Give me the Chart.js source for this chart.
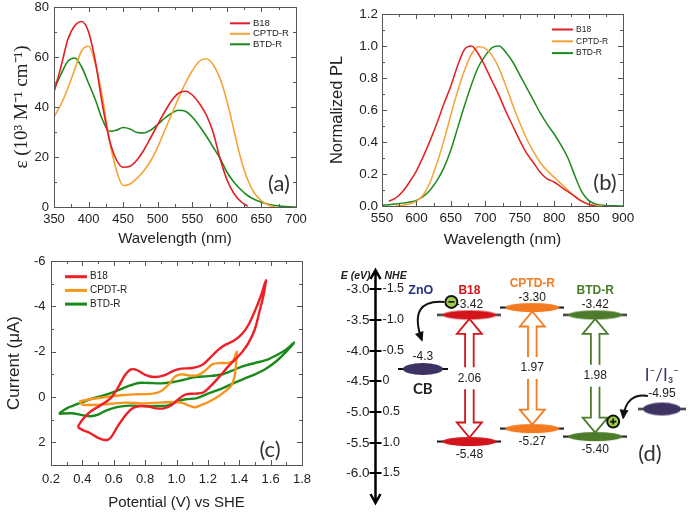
<!DOCTYPE html>
<html>
<head>
<meta charset="utf-8">
<script src="https://cdn.jsdelivr.net/npm/chart.js@4.4.1/dist/chart.umd.min.js"></script>
<style>
  html, body { margin: 0; padding: 0; background: #fff; }
  #figure { position: relative; width: 697px; height: 512px; overflow: hidden; background: #fff; }
  #figure canvas { position: absolute; }
</style>
</head>
<body>
<div id="figure">
  <canvas id="absChart" width="350" height="250" style="left:0;top:0"></canvas>
  <canvas id="plChart" width="377" height="250" style="left:320px;top:0"></canvas>
  <canvas id="cvChart" width="340" height="262" style="left:0;top:250px"></canvas>
  <canvas id="levelChart" width="372" height="262" style="left:325px;top:250px"></canvas>
</div>
<script>
const SANS = "'Liberation Sans', Arial, sans-serif";
const SERIF = "'Liberation Serif', 'Times New Roman', serif";
const ROUND = "Lato, 'Open Sans', sans-serif";
const INK = "#222";
const FRAME = "#555";

const RED = "#e41e25";
const ORANGE = "#f7a236";
const GREEN = "#1c8a1c";

// (a) absorption spectra
const absWavelength = [350, 360, 370, 380, 390, 400, 410, 420, 430, 440, 450, 460, 470, 480, 490, 500, 510, 520,
    530, 540, 550, 560, 570, 580, 590, 600, 610, 620, 630, 640, 650, 660, 670, 680, 690, 700];
const absB18 = [46, 56, 67, 72.5, 74.2, 70, 58, 41, 27, 19, 15.9, 16.3, 18.8, 22.8, 27.8, 33, 38, 42.5,
    45.5, 46.3, 44.8, 41.5, 37, 30, 19.5, 11, 5.5, 2.2, 0.3, null, null, null, null, null, null, null];
const absCPTD = [36, 41, 47.5, 55, 62.5, 64.3, 57, 44, 27, 15, 8.6, 9.2, 11.5, 14.5, 18.5, 24, 30.5, 37,
    43.5, 49.5, 54.5, 58.3, 59.3, 57, 51.5, 42.5, 31, 19.5, 11, 5.5, 2.5, 0.8, 0, null, null, null];
const absBTD = [47, 53, 58.3, 59.6, 56, 49.5, 42.8, 35, 30.3, 30.7, 31.8, 31.2, 29.8, 29.6, 30.8, 33, 35.5, 37.5,
    38.7, 38.3, 36, 32.5, 28.5, 24, 19.5, 14, 10, 7, 4.6, 3, 1.9, 1.1, 0.6, 0.3, 0.1, 0];

// (b) normalized photoluminescence
const plWavelength = [550, 560, 570, 580, 590, 600, 610, 620, 630, 640, 650, 660, 670, 680, 690, 700, 710, 720,
    730, 740, 750, 760, 770, 780, 790, 800, 810, 820, 830, 840, 850, 860, 870, 880, 890, 900];
const plB18 = [null, 0.03, 0.05, 0.09, 0.15, 0.22, 0.31, 0.41, 0.52, 0.64, 0.75, 0.88, 0.98, 1.0, 0.95, 0.87, 0.78, 0.69,
    0.59, 0.5, 0.41, 0.33, 0.27, 0.21, 0.17, 0.15, 0.12, 0.09, 0.06, 0.03, 0.01, 0, null, null, null, null];
const plCPTD = [null, null, 0, 0.005, 0.012, 0.03, 0.07, 0.15, 0.27, 0.41, 0.57, 0.72, 0.85, 0.95, 0.995, 0.985, 0.94, 0.86,
    0.75, 0.63, 0.52, 0.42, 0.34, 0.27, 0.22, 0.18, 0.14, 0.1, 0.06, 0.03, 0.01, 0.003, 0, null, null, null];
const plBTD = [0.005, 0.008, 0.012, 0.018, 0.025, 0.035, 0.06, 0.1, 0.16, 0.24, 0.35, 0.49, 0.63, 0.76, 0.87, 0.94, 0.99, 1.0,
    0.96, 0.9, 0.82, 0.74, 0.66, 0.58, 0.51, 0.45, 0.38, 0.3, 0.19, 0.09, 0.035, 0.012, 0.004, 0.002, 0.001, 0];

// (c) cyclic voltammograms (potential V vs SHE, current uA), traced round the loop
const cvB18Potential = [0.37, 0.40, 0.45, 0.52, 0.58, 0.63, 0.67, 0.71, 0.75, 0.80, 0.86, 0.92, 0.98, 1.03, 1.10, 1.16,
    1.21, 1.26, 1.31, 1.37, 1.42, 1.46, 1.50, 1.54, 1.57, 1.555, 1.53, 1.50, 1.46, 1.42, 1.38, 1.33, 1.28, 1.22, 1.17,
    1.12, 1.06, 1.02, 0.97, 0.92, 0.87, 0.82, 0.77, 0.72, 0.67, 0.62, 0.58, 0.55, 0.50, 0.45, 0.40, 0.37];
const cvB18Current = [1.33, 1.0, 0.65, 0.35, 0.05, -0.45, -0.95, -1.22, -1.18, -0.98, -0.88, -0.95, -1.15, -1.25, -1.28, -1.4,
    -1.7, -2.05, -2.3, -2.5, -2.8, -3.2, -3.8, -4.5, -5.15, -4.5, -3.8, -3.0, -2.4, -2.0, -1.7, -1.35, -0.95, -0.5, -0.2,
    -0.15, -0.12, 0.05, 0.35, 0.5, 0.5, 0.42, 0.4, 0.5, 0.85, 1.35, 1.8, 1.9, 1.8, 1.6, 1.45, 1.33];
const cvCPDTPotential = [0.38, 0.45, 0.55, 0.65, 0.75, 0.85, 0.90, 0.95, 0.99, 1.03, 1.08, 1.13, 1.18, 1.23, 1.28, 1.33,
    1.36, 1.385, 1.38, 1.37, 1.35, 1.31, 1.26, 1.21, 1.16, 1.12, 1.08, 1.03, 0.97, 0.88, 0.78, 0.68, 0.58, 0.48, 0.40, 0.38];
const cvCPDTCurrent = [0.2, 0.1, 0.0, -0.08, -0.12, -0.15, -0.25, -0.55, -0.9, -1.0, -0.95, -0.95, -1.15, -1.45, -1.5, -1.5,
    -1.6, -2.0, -1.5, -0.9, -0.5, -0.25, 0.0, 0.2, 0.35, 0.45, 0.38, 0.25, 0.22, 0.25, 0.28, 0.25, 0.3, 0.35, 0.33, 0.2];
const cvBTDPotential = [0.25, 0.30, 0.37, 0.45, 0.55, 0.63, 0.70, 0.76, 0.82, 0.90, 0.97, 1.04, 1.12, 1.20, 1.28, 1.35,
    1.42, 1.50, 1.58, 1.64, 1.70, 1.75, 1.70, 1.64, 1.57, 1.50, 1.43, 1.36, 1.28, 1.20, 1.13, 1.06, 1.00, 0.94, 0.87,
    0.80, 0.70, 0.62, 0.55, 0.50, 0.45, 0.40, 0.33, 0.25];
const cvBTDCurrent = [0.74, 0.5, 0.3, 0.1, -0.1, -0.3, -0.5, -0.62, -0.62, -0.6, -0.65, -0.75, -0.88, -0.92, -0.98, -1.15,
    -1.35, -1.5, -1.65, -1.85, -2.1, -2.4, -2.0, -1.6, -1.25, -1.0, -0.8, -0.6, -0.35, -0.15, 0.05, 0.1, 0.2, 0.38, 0.4,
    0.4, 0.38, 0.45, 0.6, 0.78, 0.85, 0.8, 0.72, 0.74];

// (d) energy levels (eV)
const dyeNames = ["B18", "CPTD-R", "BTD-R"];
const dyeLUMO = [-3.42, -3.30, -3.42];
const dyeHOMO = [-5.48, -5.27, -5.40];
const dyeGap = [2.06, 1.97, 1.98];
const znoCB = -4.3;
const redoxLevel = -4.95;
const energyTicks = [-3.0, -3.5, -4.0, -4.5, -5.0, -5.5, -6.0];
const nheTicks = [-1.5, -1.0, -0.5, 0, 0.5, 1.0, 1.5];

// horizontal slot of each column in the level diagram (axis sits at 0)
const slots = { axis: 0, zno: 0.76, dyes: [1.5, 2.5, 3.5], redox: 4.56 };
const dyeColors = ["#d4141b", "#f47a20", "#4d7b2c"];
const PURPLE = "#3d3262";

Chart.defaults.font.family = SANS;
Chart.defaults.color = INK;
Chart.defaults.animation = false;
Chart.defaults.events = [];

const series = (xs, ys) => xs.map((x, i) => ({ x, y: ys[i] })).filter((p) => p.y !== null);

const curve = (label, xs, ys, color, width) => ({
    label,
    data: series(xs, ys),
    borderColor: color,
    backgroundColor: color,
    borderWidth: width,
    pointRadius: 0,
    showLine: true,
    fill: false,
});

const axis = (o) => ({
    type: "linear",
    min: o.min,
    max: o.max,
    reverse: !!o.reverse,
    grid: { display: false, drawTicks: false },
    border: { display: false },
    ticks: {
        stepSize: o.step,
        padding: o.pad,
        includeBounds: false,
        color: INK,
        font: { size: o.size },
        callback: o.fmt,
    },
    title: {
        display: true,
        text: o.title,
        color: INK,
        font: { size: o.titleSize, family: o.titleFamily || SANS },
        padding: o.titlePad,
    },
    afterFit: (s) => {
        if (s.isHorizontal()) {
            s.height = o.fit;
            s.paddingLeft = 0;
            s.paddingRight = 0;
        } else {
            s.width = o.fit;
            s.paddingTop = 0;
            s.paddingBottom = 0;
        }
    },
});

// box frame with inward major/minor ticks on all four sides
const frameTicks = {
    id: "frameTicks",
    afterDatasetsDraw(chart, args, o) {
        const { ctx, chartArea: a } = chart;
        const xs = chart.scales.x;
        const ys = chart.scales.y;
        ctx.save();
        ctx.strokeStyle = FRAME;
        ctx.lineWidth = 1;
        ctx.strokeRect(Math.round(a.left) + 0.5, Math.round(a.top) + 0.5,
            Math.round(a.right - a.left), Math.round(a.bottom - a.top));
        ctx.beginPath();
        const nx = Math.round((xs.max - xs.min) / o.xMinor);
        for (let i = 0; i <= nx; i++) {
            const p = Math.round(xs.getPixelForValue(xs.min + i * o.xMinor)) + 0.5;
            const len = i % 2 === 0 ? o.major : o.minor;
            ctx.moveTo(p, a.bottom);
            ctx.lineTo(p, a.bottom - len);
            ctx.moveTo(p, a.top);
            ctx.lineTo(p, a.top + len);
        }
        const ny = Math.round((ys.max - ys.min) / o.yMinor);
        for (let i = 0; i <= ny; i++) {
            const p = Math.round(ys.getPixelForValue(ys.min + i * o.yMinor)) + 0.5;
            const len = i % 2 === 0 ? o.major : o.minor;
            ctx.moveTo(a.left, p);
            ctx.lineTo(a.left + len, p);
            ctx.moveTo(a.right, p);
            ctx.lineTo(a.right - len, p);
        }
        ctx.stroke();
        ctx.restore();
    },
};

// small legend inside the plot plus the panel letter
const keyAndTag = {
    id: "keyAndTag",
    afterDraw(chart, args, o) {
        const ctx = chart.ctx;
        ctx.save();
        ctx.font = `${o.size}px ${SANS}`;
        ctx.textBaseline = "middle";
        ctx.textAlign = "left";
        chart.data.datasets.forEach((ds, i) => {
            const y = o.y + i * o.dy;
            ctx.strokeStyle = ds.borderColor;
            ctx.lineWidth = o.lw;
            ctx.beginPath();
            ctx.moveTo(o.x, y);
            ctx.lineTo(o.x + o.len, y);
            ctx.stroke();
            ctx.fillStyle = INK;
            ctx.fillText(ds.label, o.x + o.len + 3, y);
        });
        ctx.font = `${o.tagSize}px ${ROUND}`;
        ctx.textAlign = "center";
        ctx.fillStyle = "#333";
        ctx.fillText(o.tag, o.tagX, o.tagY);
        ctx.restore();
    },
};

const baseOptions = (padding, scales, frame, key) => ({
    responsive: false,
    layout: { padding },
    scales,
    plugins: {
        legend: { display: false },
        tooltip: { enabled: false },
        frameTicks: frame,
        keyAndTag: key,
    },
});

const oneDecimal = (v) => Number(v).toFixed(1);
const plain = (v) => String(v);

// (a)
const absOptions = baseOptions(
    { top: 7, right: 54, bottom: 0, left: 0 },
    {
        x: axis({ min: 350, max: 700, step: 50, pad: 5, size: 13, title: "Wavelength (nm)", titleSize: 15,
            titlePad: { bottom: 2 }, fit: 43, fmt: plain }),
        y: axis({ min: 0, max: 80, step: 20, pad: 5, size: 13, title: "ε (10³ M⁻¹ cm⁻¹)", titleSize: 19,
            titleFamily: SERIF, titlePad: { top: 11 }, fit: 54, fmt: plain }),
    },
    { xMinor: 25, yMinor: 10, major: 5, minor: 3 },
    { x: 230, y: 23.3, dy: 10.5, len: 20, lw: 2, size: 9.5, tag: "(a)", tagX: 279, tagY: 184, tagSize: 22 }
);
absOptions.elements = { line: { cubicInterpolationMode: "monotone" } };
new Chart(document.getElementById("absChart"), {
    type: "scatter",
    data: {
        datasets: [
            curve("B18", absWavelength, absB18, RED, 1.6),
            curve("CPTD-R", absWavelength, absCPTD, ORANGE, 1.6),
            curve("BTD-R", absWavelength, absBTD, GREEN, 1.6),
        ],
    },
    options: absOptions,
    plugins: [frameTicks, keyAndTag],
});

// (b)
const plOptions = baseOptions(
    { top: 14, right: 74, bottom: 0, left: 0 },
    {
        x: axis({ min: 550, max: 900, step: 50, pad: 4, size: 13.5, title: "Wavelength (nm)", titleSize: 15.5,
            titlePad: { bottom: 1 }, fit: 44, fmt: plain }),
        y: axis({ min: 0, max: 1.2, step: 0.2, pad: 4, size: 13.5, title: "Normalized PL", titleSize: 16.5,
            titlePad: { top: 8 }, fit: 62, fmt: oneDecimal }),
    },
    { xMinor: 25, yMinor: 0.1, major: 5, minor: 3 },
    { x: 232, y: 29.5, dy: 11.8, len: 21, lw: 2, size: 8.5, tag: "(b)", tagX: 285, tagY: 183, tagSize: 22 }
);
plOptions.elements = { line: { cubicInterpolationMode: "monotone" } };
new Chart(document.getElementById("plChart"), {
    type: "scatter",
    data: {
        datasets: [
            curve("B18", plWavelength, plB18, RED, 1.5),
            curve("CPTD-R", plWavelength, plCPTD, ORANGE, 1.5),
            curve("BTD-R", plWavelength, plBTD, GREEN, 1.5),
        ],
    },
    options: plOptions,
    plugins: [frameTicks, keyAndTag],
});

// (c)
const cvOptions = baseOptions(
    { top: 11, right: 38, bottom: 0, left: 0 },
    {
        x: axis({ min: 0.2, max: 1.8, step: 0.2, pad: 7, size: 13, title: "Potential (V) vs SHE", titleSize: 15,
            titlePad: { bottom: 0 }, fit: 47, fmt: oneDecimal }),
        y: axis({ min: -6, max: 3, step: 2, pad: 5.5, size: 13, reverse: true, title: "Current (μA)", titleSize: 17,
            titlePad: { top: 4 }, fit: 51, fmt: plain }),
    },
    { xMinor: 0.1, yMinor: 1, major: 5, minor: 3 },
    { x: 65, y: 26.7, dy: 13.7, len: 22, lw: 3, size: 10, tag: "(c)", tagX: 270, tagY: 200, tagSize: 22 }
);
cvOptions.elements = { line: { tension: 0.3 } };
new Chart(document.getElementById("cvChart"), {
    type: "scatter",
    data: {
        datasets: [
            curve("B18", cvB18Potential, cvB18Current, "#ee1f26", 2.4),
            curve("CPDT-R", cvCPDTPotential, cvCPDTCurrent, "#f7951f", 2.4),
            curve("BTD-R", cvBTDPotential, cvBTDCurrent, "#1a8a1a", 2.4),
        ],
    },
    options: cvOptions,
    plugins: [frameTicks, keyAndTag],
});

// (d) energy level diagram
const levelMarker = (color, w, h) => {
    const tail = 5;
    const c = document.createElement("canvas");
    c.width = w + 2 * tail;
    c.height = h + 2;
    const g = c.getContext("2d");
    g.strokeStyle = "#111";
    g.lineWidth = 2;
    g.beginPath();
    g.moveTo(0, c.height / 2);
    g.lineTo(c.width, c.height / 2);
    g.stroke();
    g.fillStyle = color;
    g.beginPath();
    g.ellipse(c.width / 2, c.height / 2, w / 2, h / 2, 0, 0, Math.PI * 2);
    g.fill();
    return c;
};

const curvedArrow = (ctx, x0, y0, cx, cy, x1, y1) => {
    ctx.beginPath();
    ctx.moveTo(x0, y0);
    ctx.quadraticCurveTo(cx, cy, x1, y1);
    ctx.stroke();
    const ang = Math.atan2(y1 - cy, x1 - cx);
    const hl = 8, hw = 4.5;
    ctx.beginPath();
    ctx.moveTo(x1 + Math.cos(ang) * 2, y1 + Math.sin(ang) * 2);
    ctx.lineTo(x1 - Math.cos(ang) * hl - Math.sin(ang) * hw, y1 - Math.sin(ang) * hl + Math.cos(ang) * hw);
    ctx.lineTo(x1 - Math.cos(ang) * hl + Math.sin(ang) * hw, y1 - Math.sin(ang) * hl - Math.cos(ang) * hw);
    ctx.closePath();
    ctx.fill();
};

const chargeDot = (ctx, x, y, sign) => {
    ctx.beginPath();
    ctx.arc(x, y, 6, 0, Math.PI * 2);
    ctx.fillStyle = "#9ccc4c";
    ctx.fill();
    ctx.lineWidth = 2;
    ctx.strokeStyle = "#111";
    ctx.stroke();
    ctx.beginPath();
    ctx.lineWidth = 1.6;
    ctx.moveTo(x - 3, y);
    ctx.lineTo(x + 3, y);
    if (sign === "+") {
        ctx.moveTo(x, y - 3);
        ctx.lineTo(x, y + 3);
    }
    ctx.stroke();
};

const energyDiagram = {
    id: "energyDiagram",
    beforeDatasetsDraw(chart) {
        const { ctx, chartArea: a, scales: { x, y } } = chart;
        ctx.save();
        // hollow double-headed gap arrows
        dyeNames.forEach((name, i) => {
            const cx = x.getPixelForValue(slots.dyes[i]);
            const yt = y.getPixelForValue(dyeLUMO[i]) + 4;
            const yb = y.getPixelForValue(dyeHOMO[i]) - 4;
            const ym = (yt + yb) / 2;
            const hh = 15, hw = 12.5, sw = 4.3, gap = 11;
            ctx.strokeStyle = dyeColors[i];
            ctx.lineWidth = 1.8;
            ctx.beginPath();
            ctx.moveTo(cx + sw, ym - gap);
            ctx.lineTo(cx + sw, yt + hh);
            ctx.lineTo(cx + hw, yt + hh);
            ctx.lineTo(cx, yt);
            ctx.lineTo(cx - hw, yt + hh);
            ctx.lineTo(cx - sw, yt + hh);
            ctx.lineTo(cx - sw, ym - gap);
            ctx.moveTo(cx + sw, ym + gap);
            ctx.lineTo(cx + sw, yb - hh);
            ctx.lineTo(cx + hw, yb - hh);
            ctx.lineTo(cx, yb);
            ctx.lineTo(cx - hw, yb - hh);
            ctx.lineTo(cx - sw, yb - hh);
            ctx.lineTo(cx - sw, ym + gap);
            ctx.stroke();
            ctx.fillStyle = INK;
            ctx.font = `12px ${SANS}`;
            ctx.textAlign = "center";
            ctx.textBaseline = "middle";
            ctx.fillText(dyeGap[i].toFixed(2), cx, ym);
        });

        // energy axis with both scales
        const ax = Math.round(x.getPixelForValue(slots.axis)) + 0.5;
        ctx.strokeStyle = "#000";
        ctx.fillStyle = "#000";
        ctx.lineWidth = 2.5;
        ctx.beginPath();
        ctx.moveTo(ax, a.top);
        ctx.lineTo(ax, a.bottom);
        ctx.moveTo(ax - 5, a.top + 9);
        ctx.lineTo(ax, a.top);
        ctx.lineTo(ax + 5, a.top + 9);
        ctx.moveTo(ax - 5, a.bottom - 9);
        ctx.lineTo(ax, a.bottom);
        ctx.lineTo(ax + 5, a.bottom - 9);
        ctx.stroke();
        ctx.lineWidth = 2;
        ctx.textBaseline = "middle";
        energyTicks.forEach((v, i) => {
            const py = Math.round(y.getPixelForValue(v));
            ctx.beginPath();
            ctx.moveTo(ax - 6, py);
            ctx.lineTo(ax + 6, py);
            ctx.stroke();
            ctx.fillStyle = INK;
            ctx.font = `13.5px ${SANS}`;
            ctx.textAlign = "right";
            ctx.fillText(v.toFixed(1), ax - 6, py);
            ctx.font = `12.5px ${SANS}`;
            ctx.textAlign = "left";
            const n = nheTicks[i];
            ctx.fillText(n === 0 ? "0" : n.toFixed(1), ax + 7, py);
        });
        ctx.font = `italic bold 10.5px ${SANS}`;
        ctx.textAlign = "right";
        ctx.fillText("E (eV)", ax - 5, a.top + 6);
        ctx.textAlign = "left";
        ctx.fillText("NHE", ax + 9, a.top + 6);
        ctx.restore();
    },
    afterDatasetsDraw(chart, args, o) {
        const { ctx, scales: { x, y } } = chart;
        ctx.save();
        ctx.textAlign = "center";
        ctx.textBaseline = "middle";
        dyeNames.forEach((name, i) => {
            const cx = x.getPixelForValue(slots.dyes[i]);
            const yl = y.getPixelForValue(dyeLUMO[i]);
            const yh = y.getPixelForValue(dyeHOMO[i]);
            ctx.fillStyle = dyeColors[i];
            ctx.font = `bold 12px ${SANS}`;
            ctx.fillText(name, cx, yl - 24);
            ctx.fillStyle = INK;
            ctx.font = `12px ${SANS}`;
            ctx.fillText(dyeLUMO[i].toFixed(2), cx, yl - 10);
            ctx.fillText(dyeHOMO[i].toFixed(2), cx, yh + 13);
        });

        // ZnO conduction band
        const zx = x.getPixelForValue(slots.zno);
        const zy = y.getPixelForValue(znoCB);
        ctx.fillStyle = "#27307a";
        ctx.font = `bold 12.5px ${SANS}`;
        ctx.fillText("ZnO", zx - 2, y.getPixelForValue(energyTicks[0]) + 1);
        ctx.fillStyle = INK;
        ctx.font = `12px ${SANS}`;
        ctx.fillText(znoCB.toFixed(1), zx, zy - 12);
        ctx.font = `bold 15px ${ROUND}`;
        ctx.fillText("CB", zx, zy + 20);

        // redox couple
        const rx = x.getPixelForValue(slots.redox);
        const ry = y.getPixelForValue(redoxLevel);
        ctx.fillStyle = "#3a3468";
        ctx.font = `17px ${ROUND}`;
        ctx.fillText("I⁻/I₃⁻", rx, ry - 33);
        ctx.fillStyle = INK;
        ctx.font = `12px ${SANS}`;
        ctx.fillText(redoxLevel.toFixed(2), rx, ry - 15);

        // electron injection into ZnO
        const bx = x.getPixelForValue(slots.dyes[0]);
        const by = y.getPixelForValue(dyeLUMO[0]);
        const ex = bx - 18, ey = by - 13;
        ctx.strokeStyle = "#111";
        ctx.fillStyle = "#111";
        ctx.lineWidth = 2;
        curvedArrow(ctx, ex - 7, ey, ex - 44, ey - 3, zx - 1, zy - 29);
        chargeDot(ctx, ex, ey, "-");

        // hole regeneration by the redox couple
        const gx = x.getPixelForValue(slots.dyes[2]);
        const gy = y.getPixelForValue(dyeHOMO[2]);
        const hx = gx + 18, hy = gy - 15;
        ctx.strokeStyle = "#111";
        ctx.fillStyle = "#111";
        ctx.lineWidth = 2;
        curvedArrow(ctx, rx - 14, ry - 13, rx - 36, ry - 16, hx + 10, hy - 4);
        chargeDot(ctx, hx, hy, "+");

        ctx.fillStyle = "#333";
        ctx.font = `22px ${ROUND}`;
        ctx.fillText("(d)", o.tagX, o.tagY);
        ctx.restore();
    },
};

const levelSet = (label, xs, ys, marker) => ({
    label,
    data: series(xs, ys),
    pointStyle: marker,
    pointRadius: 5,
    pointHoverRadius: 5,
    showLine: false,
});

new Chart(document.getElementById("levelChart"), {
    type: "scatter",
    data: {
        datasets: [
            levelSet("ZnO CB", [slots.zno], [znoCB], levelMarker(PURPLE, 40, 12)),
            ...dyeNames.map((name, i) =>
                levelSet(name, [slots.dyes[i], slots.dyes[i]], [dyeLUMO[i], dyeHOMO[i]], levelMarker(dyeColors[i], 54, 9))),
            levelSet("I⁻/I₃⁻", [slots.redox], [redoxLevel], levelMarker(PURPLE, 38, 13)),
        ],
    },
    options: {
        responsive: false,
        layout: { padding: { top: 20, bottom: 9, left: 0, right: 0 } },
        scales: {
            x: { type: "linear", min: -0.7, max: 5.023, display: false },
            y: { type: "linear", min: -6.48, max: -2.69, display: false },
        },
        plugins: {
            legend: { display: false },
            tooltip: { enabled: false },
            energyDiagram: { tagX: 325, tagY: 204 },
        },
    },
    plugins: [energyDiagram],
});
</script>
</body>
</html>
